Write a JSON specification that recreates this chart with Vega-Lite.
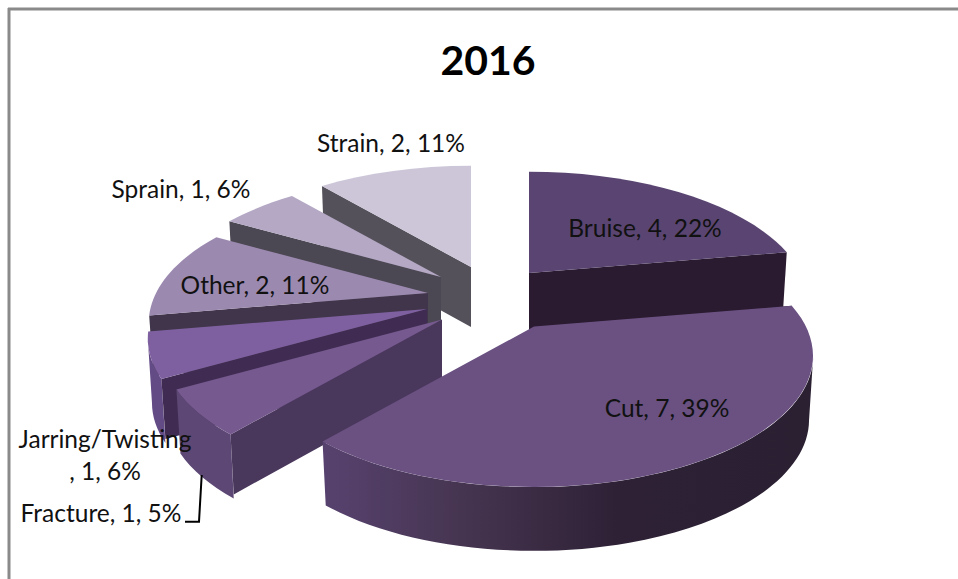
{
"$schema":"https://vega.github.io/schema/vega-lite/v6.json",
"width":958,"height":579,"padding":0,"autosize":{"type":"none"},
"background":"white",
"view":{"stroke":null},
"title":{"text":"2016","font":"Lato","fontSize":41,"fontWeight":"bold","color":"#000000","anchor":"middle","dx":9,"offset":-84},
"data":{"values":[
{"cause":"Bruise","count":4,"percent":22},
{"cause":"Cut","count":7,"percent":39},
{"cause":"Fracture","count":1,"percent":5},
{"cause":"Jarring/Twisting","count":1,"percent":6},
{"cause":"Other","count":2,"percent":11},
{"cause":"Sprain","count":1,"percent":6},
{"cause":"Strain","count":2,"percent":11}
]},
"transform":[
{"stack":"count","groupby":[],"as":["c0","c1"]},
{"joinaggregate":[{"op":"sum","field":"count","as":"total"}]},
{"calculate":"2*PI*datum.c0/datum.total","as":"t0"},
{"calculate":"2*PI*datum.c1/datum.total","as":"t1"}
],
"layer":[
{
"transform":[
{"calculate":"({'Bruise':50,'Cut':55,'Fracture':-37,'Jarring/Twisting':-52,'Other':-51,'Sprain':-38,'Strain':-8})[datum.cause]","as":"ox"},
{"calculate":"({'Bruise':-16.5,'Cut':37,'Fracture':30,'Jarring/Twisting':19.5,'Other':3.5,'Sprain':-12.5,'Strain':-22.5})[datum.cause]","as":"oy"},
{"calculate":"({'Strain':0,'Sprain':1,'Other':2,'Jarring/Twisting':3,'Fracture':4,'Bruise':5,'Cut':6})[datum.cause]","as":"depth"},
{"calculate":"max(datum.t0,1.8)","as":"ta"},
{"calculate":"min(datum.t1,4.485)","as":"tb"},
{"calculate":"datum.t1<=PI?datum.t1:datum.t0","as":"tf"},
{"calculate":"datum.ox+','+datum.oy","as":"A"},
{"calculate":"datum.ox+','+(datum.oy+60)","as":"AL"},
{"calculate":"round(100*(datum.ox+272*sin(datum.t0)/(1+0.226*cos(datum.t0))))/100+','+round(100*(datum.oy-124*cos(datum.t0)/(1+0.226*cos(datum.t0))))/100","as":"P0"},
{"calculate":"round(100*(datum.ox+272*sin(datum.t1)/(1+0.226*cos(datum.t1))))/100+','+round(100*(datum.oy-124*cos(datum.t1)/(1+0.226*cos(datum.t1))))/100","as":"P1"},
{"calculate":"round(100*(datum.ox+272*sin(datum.tf)/(1+0.226*cos(datum.tf))))/100+','+round(100*(datum.oy-124*cos(datum.tf)/(1+0.226*cos(datum.tf))))/100","as":"Pf"},
{"calculate":"round(100*(datum.ox+0.985*272*sin(datum.tf)/(1+0.226*cos(datum.tf))))/100+','+round(100*(datum.oy+60-124*cos(datum.tf)/(1+0.226*cos(datum.tf))))/100","as":"Lf"},
{"calculate":"round(100*(datum.ox+272*sin(datum.ta)/(1+0.226*cos(datum.ta))))/100+','+round(100*(datum.oy-124*cos(datum.ta)/(1+0.226*cos(datum.ta))))/100","as":"Pa"},
{"calculate":"round(100*(datum.ox+272*sin(datum.tb)/(1+0.226*cos(datum.tb))))/100+','+round(100*(datum.oy-124*cos(datum.tb)/(1+0.226*cos(datum.tb))))/100","as":"Pb"},
{"calculate":"round(100*(datum.ox+0.985*272*sin(datum.ta)/(1+0.226*cos(datum.ta))))/100+','+round(100*(datum.oy+64-124*cos(datum.ta)/(1+0.226*cos(datum.ta))))/100","as":"La"},
{"calculate":"round(100*(datum.ox+0.985*272*sin(datum.tb)/(1+0.226*cos(datum.tb))))/100+','+round(100*(datum.oy+64-124*cos(datum.tb)/(1+0.226*cos(datum.tb))))/100","as":"Lb"},
{"calculate":"['outer','face','top']","as":"part"},
{"flatten":["part"]},
{"calculate":"datum.part=='top'?'M'+datum.A+' L'+datum.P0+' A279,131 0 0 1 '+datum.P1+' Z':datum.part=='face'?'M'+datum.A+' L'+datum.Pf+' L'+datum.Lf+' L'+datum.AL+' Z':datum.ta<datum.tb?'M'+datum.Pa+' A279,131 0 0 1 '+datum.Pb+' L'+datum.Lb+' A275,131 0 0 0 '+datum.La+' Z':'M0,0 L0,0 Z'","as":"path"},
{"calculate":"datum.depth*10+(datum.part=='outer'?0:datum.part=='face'?1:2)","as":"z"},
{"calculate":"datum.part=='top'?({'Bruise':'#5a4572','Cut':'#6a5182','Fracture':'#75598f','Jarring/Twisting':'#7e60a0','Other':'#9c89b0','Sprain':'#b4a8c4','Strain':'#ccc6d8'})[datum.cause]:datum.part=='face'?({'Bruise':'#2b1b30','Cut':'#2b1b30','Fracture':'#49375c','Jarring/Twisting':'#402c52','Other':'#41354b','Sprain':'#4b4753','Strain':'#55515b'})[datum.cause]:datum.cause=='Cut'?{'gradient':'linear','x1':0,'y1':0,'x2':1,'y2':0,'stops':[{'offset':0,'color':'#57426f'},{'offset':0.3,'color':'#45344f'},{'offset':0.6,'color':'#2e2136'},{'offset':1,'color':'#2a2032'}]}:datum.cause=='Fracture'?'#5d4875':'#634b86'","as":"paint"}
],
"mark":{"type":"point","filled":true,"opacity":1,"size":4},
"encoding":{
"shape":{"field":"path","type":"nominal","scale":null},
"fill":{"field":"paint","type":"nominal","scale":null},
"order":{"field":"z","type":"quantitative"}
}
},
{
"transform":[{"filter":"datum.cause=='Fracture'"}],
"mark":{"type":"point","filled":false,"opacity":1,"size":4,"stroke":"#000000","strokeWidth":2},
"encoding":{"shape":{"value":"M-277.3,185.5 L-280,232.2 L-294,232.2"}}
},
{
"transform":[
{"calculate":"({'Bruise':645,'Cut':667,'Fracture':101,'Jarring/Twisting':105,'Other':255,'Sprain':181,'Strain':391})[datum.cause]","as":"lx"},
{"calculate":"({'Bruise':230,'Cut':410,'Fracture':515,'Jarring/Twisting':441,'Other':287,'Sprain':191,'Strain':145})[datum.cause]","as":"ly"},
{"calculate":"datum.cause+(datum.cause=='Jarring/Twisting'?'\\n':'')+', '+datum.count+', '+datum.percent+'%'","as":"label"}
],
"mark":{"type":"text","font":"Lato","fontSize":24.5,"color":"#111111","align":"center","baseline":"middle","lineBreak":"\n","lineHeight":32},
"encoding":{
"x":{"field":"lx","type":"quantitative","scale":null},
"y":{"field":"ly","type":"quantitative","scale":null},
"text":{"field":"label","type":"nominal"}
}
},
{
"data":{"values":[{"edge":"left"}]},
"mark":{"type":"rule","color":"#8a8a8a","strokeWidth":3},
"encoding":{"x":{"value":9},"y":{"value":8},"y2":{"value":579}}
},
{
"data":{"values":[{"edge":"top"}]},
"mark":{"type":"rule","color":"#8a8a8a","strokeWidth":3},
"encoding":{"x":{"value":8},"x2":{"value":958},"y":{"value":9}}
}
]
}
